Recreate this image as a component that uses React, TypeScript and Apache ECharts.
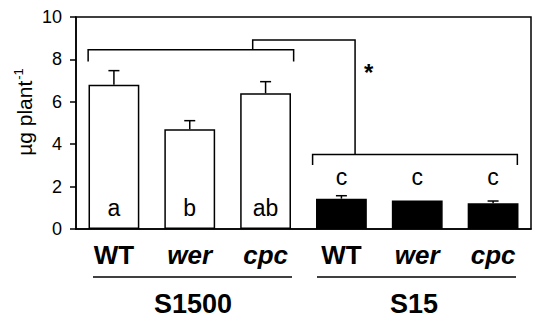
import React, { useEffect, useRef } from "react";
import * as echarts from "echarts";

const categories = ["WT", "wer", "cpc", "WT", "wer", "cpc"];
const italicCats = [false, true, true, false, true, true];
const means = [6.8, 4.7, 6.4, 1.43, 1.35, 1.21];
const errors = [0.67, 0.41, 0.55, 0.14, 0, 0.11];
const groupOfBar = [0, 0, 0, 1, 1, 1];
const letters = ["a", "b", "ab", "c", "c", "c"];
const letterY = [1.0, 1.0, 1.0, 2.45, 2.45, 2.45];
const groups = ["S1500", "S15"];
const yTicks = [0, 2, 4, 6, 8, 10];
const yTitle = "µg plant";
const yTitleSup = "-1";

// bracket annotations in (category-position, value) units
const bracketLines: number[][][] = [
  [[-0.34, 7.9], [-0.34, 8.45], [2.37, 8.45], [2.37, 7.9]],
  [[2.62, 3.02], [2.62, 3.52], [5.32, 3.52], [5.32, 3.02]],
  [[1.83, 8.45], [1.83, 8.92], [3.18, 8.92], [3.18, 3.52]],
];
const starPos = [3.36, 7.4];

const FONT = "'Liberation Sans', Arial, Helvetica, sans-serif";

export default function App() {
  const ref = useRef<HTMLDivElement>(null);
  useEffect(() => {
    const chart = echarts.init(ref.current!, null, { renderer: "svg" });
    chart.setOption({
      animation: false,
      textStyle: { fontFamily: FONT, color: "#000" },
      grid: {
        left: 76,
        right: 19,
        top: 17,
        bottom: 93,
        show: true,
        borderColor: "#000",
        borderWidth: 1.5,
        backgroundColor: "transparent",
      },
      xAxis: [
        {
          type: "category",
          data: categories,
          axisLine: { show: true, lineStyle: { color: "#000", width: 1.5 } },
          axisTick: { show: false },
          axisLabel: {
            margin: 12,
            interval: 0,
            formatter: (v: string, i: number) =>
              italicCats[i] ? `{i|${v}}` : `{n|${v}}`,
            rich: {
              n: { fontSize: 26, fontWeight: "bold", fontFamily: FONT, color: "#000", lineHeight: 28 },
              i: {
                fontSize: 26,
                fontWeight: "bold",
                fontStyle: "italic",
                fontFamily: FONT,
                color: "#000",
                lineHeight: 28,
              },
            },
          },
        },
        { type: "value", min: -0.5, max: 5.5, show: false },
      ],
      yAxis: {
        type: "value",
        min: 0,
        max: 10,
        interval: 2,
        splitLine: { show: false },
        axisLine: { show: true, onZero: false, lineStyle: { color: "#000", width: 1.5 } },
        axisTick: { show: true, inside: false, length: 6, lineStyle: { color: "#000", width: 1.5 } },
        axisLabel: {
          fontSize: 18,
          color: "#000",
          margin: 14,
          fontFamily: FONT,
          formatter: (v: number) => (yTicks.includes(v) ? String(v) : ""),
        },
      },
      series: [
        {
          type: "bar",
          xAxisIndex: 0,
          barWidth: "67%",
          data: means.map((v, i) => ({
            value: v,
            itemStyle:
              groupOfBar[i] === 0
                ? { color: "#fff", borderColor: "#000", borderWidth: 1.5 }
                : { color: "#000", borderColor: "#000", borderWidth: 1.5 },
          })),
          z: 2,
        },
        {
          type: "custom",
          xAxisIndex: 0,
          data: means.map((m, i) => [i, m, errors[i]]),
          z: 1,
          renderItem: (params: any, api: any) => {
            const i = api.value(0);
            const m = api.value(1);
            const e = api.value(2);
            if (!e) return { type: "group", children: [] };
            const p0 = api.coord([i, m]);
            const p1 = api.coord([i, m + e]);
            const style = { stroke: "#000", lineWidth: 1.5 };
            return {
              type: "group",
              children: [
                { type: "line", shape: { x1: p0[0], y1: p0[1], x2: p1[0], y2: p1[1] }, style },
                { type: "line", shape: { x1: p1[0] - 5.5, y1: p1[1], x2: p1[0] + 5.5, y2: p1[1] }, style },
              ],
            };
          },
        },
        {
          type: "custom",
          xAxisIndex: 0,
          data: letterY.map((y, i) => [i, y]),
          z: 5,
          renderItem: (params: any, api: any) => {
            const p = api.coord([api.value(0), api.value(1)]);
            return {
              type: "text",
              x: p[0],
              y: p[1],
              style: {
                text: letters[params.dataIndex],
                fontSize: 23,
                fontFamily: FONT,
                fill: "#000",
                align: "center",
                verticalAlign: "middle",
              },
            };
          },
        },
        {
          type: "custom",
          xAxisIndex: 1,
          clip: false,
          data: bracketLines.map((_, i) => [i, 0]),
          z: 5,
          renderItem: (params: any, api: any) => {
            const pts = bracketLines[params.dataIndex].map((p) => api.coord(p));
            return {
              type: "polyline",
              shape: { points: pts },
              style: { stroke: "#000", lineWidth: 1.5, fill: "none" },
            };
          },
        },
        {
          type: "custom",
          xAxisIndex: 1,
          data: [starPos],
          z: 5,
          renderItem: (params: any, api: any) => {
            const p = api.coord([api.value(0), api.value(1)]);
            return {
              type: "text",
              x: p[0],
              y: p[1],
              style: {
                text: "*",
                fontSize: 24,
                fontWeight: "bold",
                fontFamily: FONT,
                fill: "#000",
                align: "center",
                verticalAlign: "middle",
              },
            };
          },
        },
      ],
      graphic: [
        {
          type: "text",
          x: 24,
          y: 112,
          rotation: Math.PI / 2,
          style: {
            text: `{a|${yTitle}}{s|${yTitleSup}}`,
            align: "center",
            verticalAlign: "middle",
            fill: "#000",
            rich: {
              a: { fontSize: 21, fontFamily: FONT, fill: "#000", lineHeight: 24 },
              s: { fontSize: 13, fontFamily: FONT, fill: "#000", verticalAlign: "top", lineHeight: 24, padding: [0, 0, 10, 1] },
            },
          },
        },
        { type: "line", shape: { x1: 93, y1: 277, x2: 292, y2: 277 }, style: { stroke: "#000", lineWidth: 1.5 } },
        { type: "line", shape: { x1: 317, y1: 277, x2: 516, y2: 277 }, style: { stroke: "#000", lineWidth: 1.5 } },
        {
          type: "text",
          x: 193,
          y: 304,
          style: { text: groups[0], fontSize: 27, fontWeight: "bold", fontFamily: FONT, fill: "#000", align: "center", verticalAlign: "middle" },
        },
        {
          type: "text",
          x: 414,
          y: 304,
          style: { text: groups[1], fontSize: 27, fontWeight: "bold", fontFamily: FONT, fill: "#000", align: "center", verticalAlign: "middle" },
        },
      ],
    });
    return () => chart.dispose();
  }, []);
  return <div ref={ref} style={{ width: 550, height: 322, position: "absolute", left: 0, top: 0 }} />;
}
